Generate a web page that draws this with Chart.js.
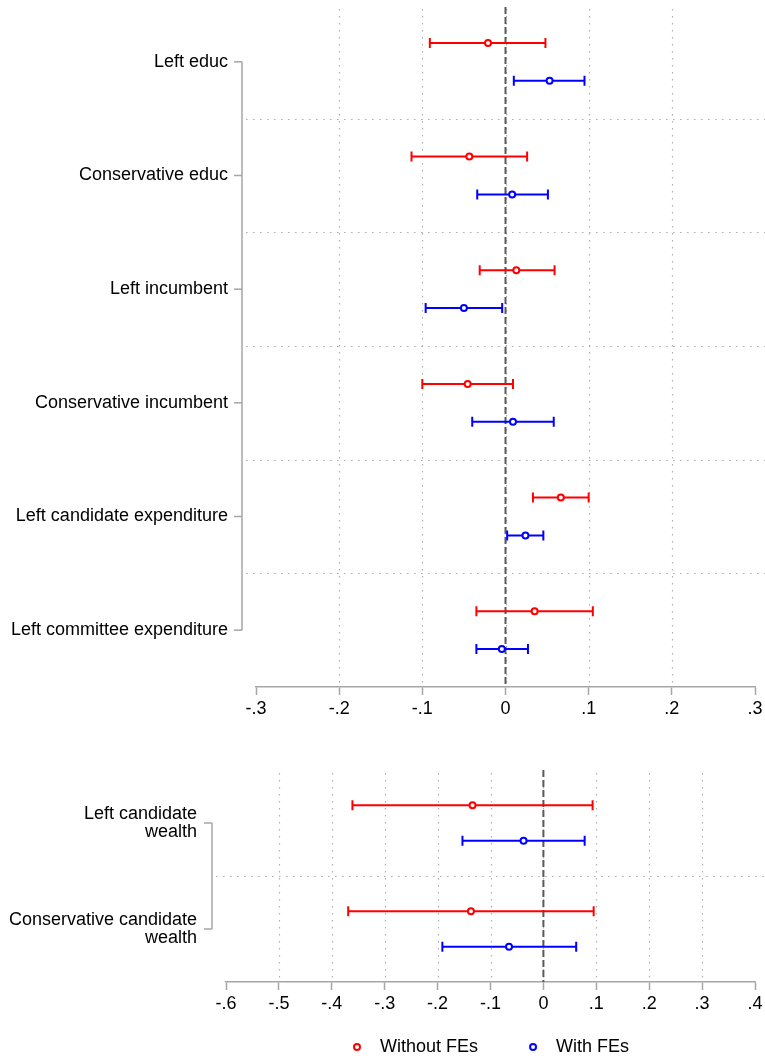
<!DOCTYPE html>
<html><head><meta charset="utf-8">
<script src="https://cdn.jsdelivr.net/npm/chart.js@4"></script>
<style>
html,body{margin:0;padding:0;background:#fff;overflow:hidden;width:765px;height:1059px}
canvas{position:absolute;left:0}
#c1{top:0}
#c2{top:760px}
</style></head>
<body>
<canvas id="c1" width="765" height="720"></canvas>
<canvas id="c2" width="765" height="306"></canvas>
<script>
// ---------- data ----------
const seriesNames = ['Without FEs', 'With FEs'];

const topCategories = ['Left educ', 'Conservative educ', 'Left incumbent',
  'Conservative incumbent', 'Left candidate expenditure', 'Left committee expenditure'];
const topWithoutEst = [-0.021, -0.0435, 0.013, -0.0455, 0.0665, 0.035];
const topWithoutLo  = [-0.091, -0.113, -0.031, -0.100, 0.033, -0.035];
const topWithoutHi  = [0.048, 0.026, 0.059, 0.009, 0.100, 0.105];
const topWithEst    = [0.053, 0.008, -0.050, 0.009, 0.024, -0.0044];
const topWithLo     = [0.010, -0.034, -0.096, -0.040, 0.002, -0.035];
const topWithHi     = [0.095, 0.051, -0.004, 0.058, 0.0455, 0.027];
const topTicks = { min: -0.3, max: 0.3, step: 0.1 };

const bottomCategories = [['Left candidate', 'wealth'], ['Conservative candidate', 'wealth']];
const bottomWithoutEst = [-0.134, -0.137];
const bottomWithoutLo  = [-0.361, -0.369];
const bottomWithoutHi  = [0.093, 0.095];
const bottomWithEst    = [-0.0375, -0.065];
const bottomWithLo     = [-0.153, -0.191];
const bottomWithHi     = [0.078, 0.062];
const bottomTicks = { min: -0.6, max: 0.4, step: 0.1 };

// ---------- styling ----------
const RED = '#ff0000', BLUE = '#0000ff', AXIS = '#a6a6a6', GRID = '#b0b0b0';
Chart.defaults.font.family = "'Liberation Sans', Arial, Helvetica, sans-serif";
Chart.defaults.font.size = 18;
Chart.defaults.color = '#000';

function fmtTick(v) {
  const r = Math.round(v * 10) / 10;
  return r.toString().replace('0.', '.');
}

function makeMarker(color) {
  const c = document.createElement('canvas');
  c.width = 19; c.height = 12;
  const g = c.getContext('2d');
  g.beginPath(); g.arc(5, 6, 3, 0, Math.PI * 2);
  g.fillStyle = '#fff'; g.fill();
  g.lineWidth = 2; g.strokeStyle = color; g.stroke();
  return c;
}

const decor = {
  id: 'decor',
  afterLayout(chart, args, o) {
    // let x tick labels draw below a short scale box (legend sits there)
    if (o.extendX) chart.scales.x.bottom = chart.height;
  },
  beforeDatasetsDraw(chart, args, o) {
    const { ctx, chartArea: a, scales: { x, y } } = chart;
    ctx.save();
    // vertical dotted grid
    ctx.strokeStyle = GRID; ctx.lineWidth = 1.2; ctx.setLineDash([1.6, 5.4]);
    x.ticks.forEach(t => {
      if (t.value <= x.min + 1e-9 || t.value >= x.max - 1e-9) return;
      const px = Math.round(x.getPixelForValue(t.value)) + 0.5;
      ctx.beginPath(); ctx.moveTo(px, a.top + o.gridInset); ctx.lineTo(px, a.bottom); ctx.stroke();
    });
    // horizontal separators between categories
    for (let k = 1; k < o.n; k++) {
      const py = Math.round(y.getPixelForValue(3 * k)) + 0.5;
      ctx.beginPath(); ctx.moveTo(a.left - 10, py); ctx.lineTo(chart.width, py); ctx.stroke();
    }
    // zero line
    ctx.setLineDash([7, 3]); ctx.strokeStyle = '#5a5a5a'; ctx.lineWidth = 2;
    const zx = x.getPixelForValue(0);
    ctx.beginPath(); ctx.moveTo(zx, a.top + o.zeroInset); ctx.lineTo(zx, a.bottom); ctx.stroke();
    // y-axis bracket
    ctx.setLineDash([]); ctx.strokeStyle = AXIS; ctx.lineWidth = 1.5;
    const bx = a.left - 14;
    const y0 = y.getPixelForValue(1.5), y1 = y.getPixelForValue(3 * (o.n - 1) + 1.5);
    ctx.beginPath(); ctx.moveTo(bx, y0); ctx.lineTo(bx, y1); ctx.stroke();
    for (let k = 0; k < o.n; k++) {
      const py = y.getPixelForValue(3 * k + 1.5);
      ctx.beginPath(); ctx.moveTo(bx - 8, py); ctx.lineTo(bx, py); ctx.stroke();
    }
    // error bars
    chart.data.datasets.forEach(ds => {
      ctx.strokeStyle = ds.pointBorderColor; ctx.lineWidth = 2;
      ds.lo.forEach((lo, i) => {
        const py = y.getPixelForValue(ds.data[i].y);
        const x1 = x.getPixelForValue(lo), x2 = x.getPixelForValue(ds.hi[i]);
        ctx.beginPath();
        ctx.moveTo(x1, py); ctx.lineTo(x2, py);
        ctx.moveTo(x1, py - 5); ctx.lineTo(x1, py + 5);
        ctx.moveTo(x2, py - 5); ctx.lineTo(x2, py + 5);
        ctx.stroke();
      });
    });
    ctx.restore();
  }
};

function makeDataset(name, color, est, lo, hi) {
  return {
    label: name,
    data: est.map((v, i) => ({ x: v, y: 3 * i + (name === seriesNames[0] ? 1 : 2) })),
    lo: lo, hi: hi,
    pointStyle: 'circle',
    pointRadius: 3, pointHoverRadius: 3,
    pointBorderWidth: 2,
    pointBorderColor: color, borderColor: color,
    pointBackgroundColor: '#fff', backgroundColor: '#fff',
    showLine: false
  };
}

function buildChart(canvasId, cats, ticksDef, dsets, cfg) {
  const n = cats.length;
  return new Chart(document.getElementById(canvasId), {
    type: 'scatter',
    data: { datasets: dsets },
    plugins: [decor],
    options: {
      responsive: false, animation: false, events: [],
      layout: { padding: { top: cfg.padTop, right: 10, left: 0, bottom: 0 } },
      plugins: {
        tooltip: { enabled: false },
        decor: { n: n, gridInset: cfg.gridInset, zeroInset: cfg.zeroInset, extendX: cfg.extendX },
        legend: cfg.legend
      },
      scales: {
        x: {
          type: 'linear', position: 'bottom',
          min: ticksDef.min, max: ticksDef.max,
          ticks: { stepSize: ticksDef.step, autoSkip: false, maxRotation: 0, padding: 3,
                   callback: v => fmtTick(v), font: { size: 18 } },
          grid: { display: true, drawOnChartArea: false, drawTicks: true, tickLength: 8,
                  tickColor: AXIS, tickWidth: 1.5 },
          border: { display: true, color: AXIS, width: 1.5 },
          afterFit: s => { s.height = cfg.xHeight; s.paddingLeft = 0; s.paddingRight = 0; }
        },
        y: {
          type: 'linear', position: 'left', reverse: true,
          min: 0, max: 3 * n,
          afterBuildTicks: s => { s.ticks = cats.map((c, i) => ({ value: 3 * i + 1.5 })); },
          ticks: { autoSkip: false, padding: cfg.yPad, callback: (v, i) => cats[i],
                   font: { size: 18, lineHeight: 1.0 } },
          grid: { display: false, drawTicks: false },
          border: { display: false },
          afterFit: s => { s.width = cfg.yWidth; s.paddingTop = 0; s.paddingBottom = 0; }
        }
      }
    }
  });
}

buildChart('c1', topCategories, topTicks, [
  makeDataset(seriesNames[0], RED, topWithoutEst, topWithoutLo, topWithoutHi),
  makeDataset(seriesNames[1], BLUE, topWithEst, topWithLo, topWithHi)
], { padTop: 4, xHeight: 33, yWidth: 256, yPad: 28, gridInset: 4, zeroInset: 2, extendX: false,
     legend: { display: false } });

buildChart('c2', bottomCategories, bottomTicks, [
  makeDataset(seriesNames[0], RED, bottomWithoutEst, bottomWithoutLo, bottomWithoutHi),
  makeDataset(seriesNames[1], BLUE, bottomWithEst, bottomWithLo, bottomWithHi)
], { padTop: 10, xHeight: 6, yWidth: 226, yPad: 29, gridInset: 3, zeroInset: 0, extendX: true,
     legend: {
       display: true, position: 'bottom', fullSize: false,
       labels: {
         usePointStyle: true, pointStyleWidth: 19, padding: 50,
         font: { size: 18 }, color: '#000',
         generateLabels: chart => {
           const items = Chart.defaults.plugins.legend.labels.generateLabels(chart);
           items.forEach(it => {
             it.pointStyle = makeMarker(chart.data.datasets[it.datasetIndex].pointBorderColor);
           });
           return items;
         }
       }
     } });
</script>
</body></html>
